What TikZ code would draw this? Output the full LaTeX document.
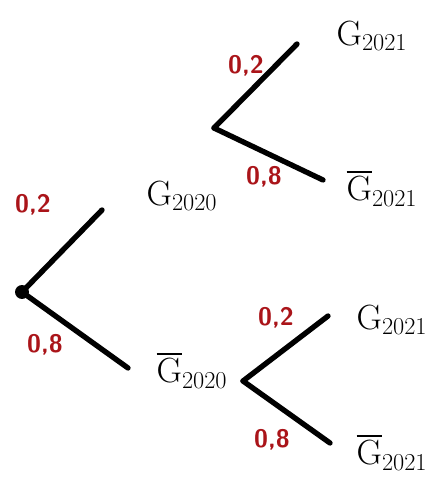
\documentclass[tikz,border=0pt]{standalone}
\usepackage{amsmath}
\usepackage{tikz}
\usetikzlibrary{positioning,calc}
\definecolor{probred}{RGB}{170,20,25}

\begin{document}
\begin{tikzpicture}[
  x=0.025cm, y=-0.025cm,
  branch/.style={line width=3.8pt, line cap=round},
  event/.style={font=\fontsize{26}{30}\selectfont, inner sep=0pt},
  prob/.style={text=probred, font=\fontsize{18}{21}\selectfont\sffamily\bfseries, inner sep=0pt}
]
\useasboundingbox (0,0) rectangle (431,478);

% first year
\node[circle, fill, inner sep=3.5pt] (root) at (22,292) {};
\coordinate (up1) at (102,210);
\coordinate (lo1) at (128,368);
\node[event] (G20) at (182,196) {$\mathrm{G}_{2020}$};
\node[event] (nG20) at (192,370) {$\overline{\mathrm{G}}_{2020}$};
\draw[branch] (root.center) -- (up1);
\draw[branch] (root.center) -- (lo1);
\node[prob] (p1) at (33,205) {0,2};
\node[prob] (p2) at (45,345) {0,8};

% second year, after G
\coordinate (v2) at (214,128);
\coordinate (up2) at (297,44);
\coordinate (lo2) at (323,180);
\node[event] (G21a) at (372,36) {$\mathrm{G}_{2021}$};
\node[event] (nG21a) at (382,188) {$\overline{\mathrm{G}}_{2021}$};
\draw[branch] (v2) -- (up2);
\draw[branch] (v2) -- (lo2);
\node[prob] (p3) at (246,66) {0,2};
\node[prob] (p4) at (264,177) {0,8};

% second year, after not G
\coordinate (v3) at (243,381);
\coordinate (up3) at (328,316);
\coordinate (lo3) at (330,443);
\node[event] (G21b) at (392,320) {$\mathrm{G}_{2021}$};
\node[event] (nG21b) at (392,452) {$\overline{\mathrm{G}}_{2021}$};
\draw[branch] (v3) -- (up3);
\draw[branch] (v3) -- (lo3);
\node[prob] (p5) at (276,318) {0,2};
\node[prob] (p6) at (272,440) {0,8};
\end{tikzpicture}
\end{document}
